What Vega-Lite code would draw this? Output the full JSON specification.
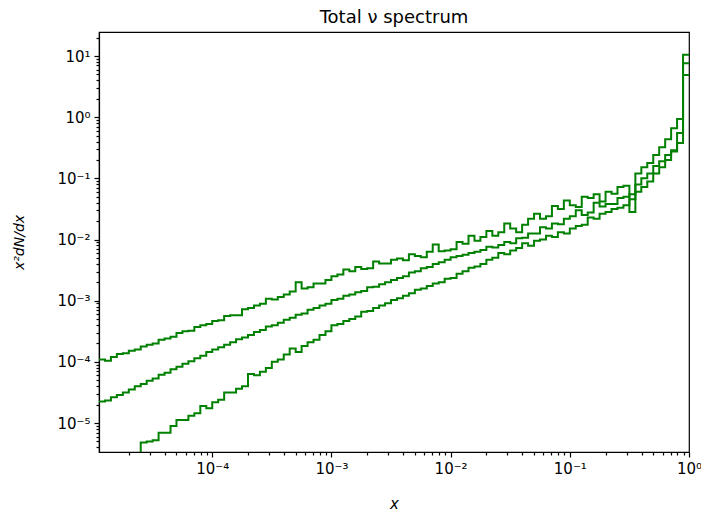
{
  "$schema": "https://vega.github.io/schema/vega-lite/v6.json",
  "width": 590,
  "height": 420,
  "autosize": {"type": "none"},
  "padding": {"left": 99, "top": 32, "right": 12, "bottom": 59},
  "title": {"text": "Total ν spectrum", "fontSize": 18, "font": "DejaVu Sans", "fontWeight": "normal", "color": "#000", "offset": 5},
  "data": {"values": [
    {"x": 1.122e-5, "a": 1.096e-4, "b": 2.239e-5, "c": 1e-6},
    {"x": 1.259e-5, "a": 1.047e-4, "b": 2.344e-5, "c": 1e-6},
    {"x": 1.413e-5, "a": 1.202e-4, "b": 2.630e-5, "c": 1e-6},
    {"x": 1.585e-5, "a": 1.349e-4, "b": 2.884e-5, "c": 1e-6},
    {"x": 1.778e-5, "a": 1.380e-4, "b": 3.162e-5, "c": 1e-6},
    {"x": 1.995e-5, "a": 1.514e-4, "b": 3.548e-5, "c": 1e-6},
    {"x": 2.239e-5, "a": 1.585e-4, "b": 3.981e-5, "c": 1e-6},
    {"x": 2.512e-5, "a": 1.778e-4, "b": 4.365e-5, "c": 4.786e-6},
    {"x": 2.818e-5, "a": 1.905e-4, "b": 4.898e-5, "c": 5.012e-6},
    {"x": 3.162e-5, "a": 1.995e-4, "b": 5.370e-5, "c": 5.248e-6},
    {"x": 3.548e-5, "a": 2.291e-4, "b": 6.166e-5, "c": 6.918e-6},
    {"x": 3.981e-5, "a": 2.399e-4, "b": 6.607e-5, "c": 6.918e-6},
    {"x": 4.467e-5, "a": 2.570e-4, "b": 7.586e-5, "c": 8.913e-6},
    {"x": 5.012e-5, "a": 2.951e-4, "b": 8.318e-5, "c": 1.122e-5},
    {"x": 5.623e-5, "a": 3.162e-4, "b": 9.333e-5, "c": 1.122e-5},
    {"x": 6.310e-5, "a": 3.236e-4, "b": 1.023e-4, "c": 1.318e-5},
    {"x": 7.079e-5, "a": 3.715e-4, "b": 1.148e-4, "c": 1.445e-5},
    {"x": 7.943e-5, "a": 3.981e-4, "b": 1.259e-4, "c": 1.905e-5},
    {"x": 8.913e-5, "a": 4.169e-4, "b": 1.445e-4, "c": 1.738e-5},
    {"x": 1.000e-4, "a": 4.677e-4, "b": 1.585e-4, "c": 2.188e-5},
    {"x": 1.122e-4, "a": 4.786e-4, "b": 1.738e-4, "c": 2.399e-5},
    {"x": 1.259e-4, "a": 5.623e-4, "b": 1.905e-4, "c": 3.162e-5},
    {"x": 1.413e-4, "a": 5.754e-4, "b": 2.089e-4, "c": 3.162e-5},
    {"x": 1.585e-4, "a": 5.754e-4, "b": 2.344e-4, "c": 3.631e-5},
    {"x": 1.778e-4, "a": 7.244e-4, "b": 2.512e-4, "c": 3.981e-5},
    {"x": 1.995e-4, "a": 7.586e-4, "b": 2.754e-4, "c": 6.310e-5},
    {"x": 2.239e-4, "a": 8.318e-4, "b": 3.090e-4, "c": 6.026e-5},
    {"x": 2.512e-4, "a": 8.913e-4, "b": 3.311e-4, "c": 6.918e-5},
    {"x": 2.818e-4, "a": 1.072e-3, "b": 3.802e-4, "c": 7.943e-5},
    {"x": 3.162e-4, "a": 1.047e-3, "b": 3.981e-4, "c": 1.000e-4},
    {"x": 3.548e-4, "a": 1.148e-3, "b": 4.365e-4, "c": 1.096e-4},
    {"x": 3.981e-4, "a": 1.259e-3, "b": 4.898e-4, "c": 1.318e-4},
    {"x": 4.467e-4, "a": 1.413e-3, "b": 5.248e-4, "c": 1.660e-4},
    {"x": 5.012e-4, "a": 1.995e-3, "b": 5.888e-4, "c": 1.445e-4},
    {"x": 5.623e-4, "a": 1.585e-3, "b": 6.166e-4, "c": 1.820e-4},
    {"x": 6.310e-4, "a": 1.660e-3, "b": 7.079e-4, "c": 2.089e-4},
    {"x": 7.079e-4, "a": 1.905e-3, "b": 7.586e-4, "c": 2.291e-4},
    {"x": 7.943e-4, "a": 1.905e-3, "b": 8.318e-4, "c": 2.754e-4},
    {"x": 8.913e-4, "a": 2.188e-3, "b": 8.913e-4, "c": 3.162e-4},
    {"x": 1.000e-3, "a": 2.512e-3, "b": 1.023e-3, "c": 3.981e-4},
    {"x": 1.122e-3, "a": 2.692e-3, "b": 1.072e-3, "c": 4.169e-4},
    {"x": 1.259e-3, "a": 3.236e-3, "b": 1.202e-3, "c": 4.677e-4},
    {"x": 1.413e-3, "a": 3.020e-3, "b": 1.259e-3, "c": 5.012e-4},
    {"x": 1.585e-3, "a": 3.548e-3, "b": 1.380e-3, "c": 5.495e-4},
    {"x": 1.778e-3, "a": 3.311e-3, "b": 1.445e-3, "c": 6.607e-4},
    {"x": 1.995e-3, "a": 3.388e-3, "b": 1.660e-3, "c": 6.761e-4},
    {"x": 2.239e-3, "a": 4.365e-3, "b": 1.698e-3, "c": 7.586e-4},
    {"x": 2.512e-3, "a": 4.074e-3, "b": 1.862e-3, "c": 8.318e-4},
    {"x": 2.818e-3, "a": 4.074e-3, "b": 1.995e-3, "c": 9.120e-4},
    {"x": 3.162e-3, "a": 4.677e-3, "b": 2.188e-3, "c": 1.023e-3},
    {"x": 3.548e-3, "a": 4.898e-3, "b": 2.344e-3, "c": 1.096e-3},
    {"x": 3.981e-3, "a": 4.571e-3, "b": 2.512e-3, "c": 1.202e-3},
    {"x": 4.467e-3, "a": 5.754e-3, "b": 2.884e-3, "c": 1.318e-3},
    {"x": 5.012e-3, "a": 5.370e-3, "b": 3.020e-3, "c": 1.514e-3},
    {"x": 5.623e-3, "a": 5.129e-3, "b": 3.388e-3, "c": 1.585e-3},
    {"x": 6.310e-3, "a": 6.310e-3, "b": 3.548e-3, "c": 1.738e-3},
    {"x": 7.079e-3, "a": 8.318e-3, "b": 3.981e-3, "c": 1.905e-3},
    {"x": 7.943e-3, "a": 6.457e-3, "b": 4.266e-3, "c": 1.995e-3},
    {"x": 8.913e-3, "a": 6.607e-3, "b": 4.677e-3, "c": 2.291e-3},
    {"x": 0.01, "a": 6.918e-3, "b": 5.129e-3, "c": 2.344e-3},
    {"x": 0.01122, "a": 9.120e-3, "b": 5.370e-3, "c": 2.754e-3},
    {"x": 0.01259, "a": 8.511e-3, "b": 5.623e-3, "c": 3.020e-3},
    {"x": 0.01413, "a": 1.148e-2, "b": 6.026e-3, "c": 3.467e-3},
    {"x": 0.01585, "a": 9.550e-3, "b": 6.310e-3, "c": 3.631e-3},
    {"x": 0.01778, "a": 1.096e-2, "b": 6.761e-3, "c": 3.981e-3},
    {"x": 0.01995, "a": 1.380e-2, "b": 7.586e-3, "c": 4.677e-3},
    {"x": 0.02239, "a": 1.148e-2, "b": 7.413e-3, "c": 5.012e-3},
    {"x": 0.02512, "a": 1.318e-2, "b": 8.128e-3, "c": 6.026e-3},
    {"x": 0.02818, "a": 1.820e-2, "b": 9.120e-3, "c": 5.754e-3},
    {"x": 0.03162, "a": 1.514e-2, "b": 8.710e-3, "c": 6.607e-3},
    {"x": 0.03548, "a": 1.318e-2, "b": 1.047e-2, "c": 7.244e-3},
    {"x": 0.03981, "a": 1.738e-2, "b": 1.072e-2, "c": 8.710e-3},
    {"x": 0.04467, "a": 2.188e-2, "b": 1.259e-2, "c": 7.943e-3},
    {"x": 0.05012, "a": 2.630e-2, "b": 1.259e-2, "c": 9.550e-3},
    {"x": 0.05623, "a": 2.188e-2, "b": 1.585e-2, "c": 1.000e-2},
    {"x": 0.06310, "a": 2.399e-2, "b": 1.514e-2, "c": 1.148e-2},
    {"x": 0.07079, "a": 3.548e-2, "b": 1.820e-2, "c": 1.096e-2},
    {"x": 0.07943, "a": 3.162e-2, "b": 1.778e-2, "c": 1.318e-2},
    {"x": 0.08913, "a": 4.365e-2, "b": 2.188e-2, "c": 1.259e-2},
    {"x": 0.1, "a": 3.631e-2, "b": 2.399e-2, "c": 1.514e-2},
    {"x": 0.1122, "a": 3.388e-2, "b": 3.020e-2, "c": 1.660e-2},
    {"x": 0.1259, "a": 5.012e-2, "b": 2.512e-2, "c": 1.738e-2},
    {"x": 0.1413, "a": 4.786e-2, "b": 2.754e-2, "c": 2.291e-2},
    {"x": 0.1585, "a": 5.495e-2, "b": 3.981e-2, "c": 2.188e-2},
    {"x": 0.1778, "a": 4.169e-2, "b": 3.467e-2, "c": 2.630e-2},
    {"x": 0.1995, "a": 6.026e-2, "b": 3.802e-2, "c": 2.818e-2},
    {"x": 0.2239, "a": 5.623e-2, "b": 3.802e-2, "c": 3.162e-2},
    {"x": 0.2512, "a": 7.244e-2, "b": 4.786e-2, "c": 3.311e-2},
    {"x": 0.2818, "a": 7.586e-2, "b": 5.012e-2, "c": 3.631e-2},
    {"x": 0.3162, "a": 2.818e-2, "b": 5.495e-2, "c": 4.571e-2},
    {"x": 0.3548, "a": 0.1202, "b": 7.943e-2, "c": 6.026e-2},
    {"x": 0.3981, "a": 0.1514, "b": 0.1, "c": 7.244e-2},
    {"x": 0.4467, "a": 0.1778, "b": 0.1202, "c": 8.913e-2},
    {"x": 0.5012, "a": 0.2399, "b": 0.1585, "c": 0.1202},
    {"x": 0.5623, "a": 0.3236, "b": 0.1905, "c": 0.1514},
    {"x": 0.6310, "a": 0.4365, "b": 0.2399, "c": 0.1995},
    {"x": 0.7079, "a": 0.6607, "b": 0.2884, "c": 0.2754},
    {"x": 0.7943, "a": 0.9333, "b": 0.5495, "c": 0.3802},
    {"x": 0.8913, "a": 10.47, "b": 7.586, "c": 4.898},
    {"x": 1.0, "a": 10.47, "b": 7.586, "c": 4.898}
  ]},
  "layer": [
    {
      "mark": {"type": "line", "interpolate": "step-after", "color": "#008000", "strokeWidth": 2, "clip": true},
      "encoding": {
        "x": {"field": "x", "type": "quantitative",
          "scale": {"type": "log", "domain": [1.122e-5, 1], "nice": false},
          "axis": {"orient": "bottom", "values": [0.0001, 0.001, 0.01, 0.1, 1], "tickSize": 5, "labelPadding": 4, "labelFlush": false,
            "labelExpr": "datum.value >= 0.5 ? '10⁰' : datum.value >= 0.05 ? '10⁻¹' : datum.value >= 0.005 ? '10⁻²' : datum.value >= 0.0005 ? '10⁻³' : '10⁻⁴'",
            "title": "x", "titleFontStyle": "italic", "titleFontSize": 15, "titlePadding": 20}},
        "y": {"field": "a", "type": "quantitative",
          "scale": {"type": "log", "domain": [3.36e-6, 24.7], "nice": false},
          "axis": {"orient": "left", "values": [0.00001, 0.0001, 0.001, 0.01, 0.1, 1, 10], "tickSize": 5, "labelPadding": 4,
            "labelExpr": "datum.value >= 5 ? '10¹' : datum.value >= 0.5 ? '10⁰' : datum.value >= 0.05 ? '10⁻¹' : datum.value >= 0.005 ? '10⁻²' : datum.value >= 0.0005 ? '10⁻³' : datum.value >= 0.00005 ? '10⁻⁴' : '10⁻⁵'",
            "title": "x²dN/dx", "titleFontStyle": "italic", "titleFontSize": 14, "titlePadding": 30}}
      }
    },
    {
      "mark": {"type": "line", "interpolate": "step-after", "color": "#008000", "strokeWidth": 2, "clip": true},
      "encoding": {
        "x": {"field": "x", "type": "quantitative",
          "axis": {"orient": "bottom", "values": [2e-5,3e-5,4e-5,5e-5,6e-5,7e-5,8e-5,9e-5,2e-4,3e-4,4e-4,5e-4,6e-4,7e-4,8e-4,9e-4,2e-3,3e-3,4e-3,5e-3,6e-3,7e-3,8e-3,9e-3,0.02,0.03,0.04,0.05,0.06,0.07,0.08,0.09,0.2,0.3,0.4,0.5,0.6,0.7,0.8,0.9], "tickSize": 3, "labels": false, "domain": false, "title": null}},
        "y": {"field": "b", "type": "quantitative",
          "axis": {"orient": "left", "values": [4e-6,5e-6,6e-6,7e-6,8e-6,9e-6,2e-5,3e-5,4e-5,5e-5,6e-5,7e-5,8e-5,9e-5,2e-4,3e-4,4e-4,5e-4,6e-4,7e-4,8e-4,9e-4,2e-3,3e-3,4e-3,5e-3,6e-3,7e-3,8e-3,9e-3,0.02,0.03,0.04,0.05,0.06,0.07,0.08,0.09,0.2,0.3,0.4,0.5,0.6,0.7,0.8,0.9,2,3,4,5,6,7,8,9,20], "tickSize": 3, "labels": false, "domain": false, "title": null}}
      }
    },
    {
      "mark": {"type": "line", "interpolate": "step-after", "color": "#008000", "strokeWidth": 2, "clip": true},
      "encoding": {
        "x": {"field": "x", "type": "quantitative", "axis": null},
        "y": {"field": "c", "type": "quantitative", "axis": null}
      }
    }
  ],
  "resolve": {"axis": {"x": "independent", "y": "independent"}},
  "config": {
    "font": "DejaVu Sans",
    "view": {"stroke": "#000", "strokeWidth": 1.2},
    "axis": {"grid": false, "domainColor": "#000", "domainWidth": 1.2, "tickColor": "#000", "tickWidth": 1.2,
      "labelColor": "#000", "labelFont": "DejaVu Sans", "labelFontSize": 15,
      "titleColor": "#000", "titleFont": "DejaVu Sans", "titleFontWeight": "normal"}
  }
}
